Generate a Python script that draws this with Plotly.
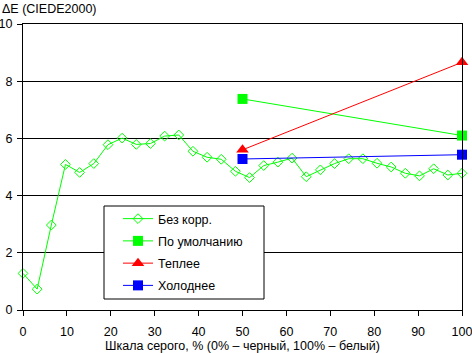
import plotly.graph_objects as go

# Data
x_base = [i * 100 / 31 for i in range(32)]
y_base = [1.28, 0.73, 2.97, 5.09, 4.81, 5.12, 5.78, 6.01, 5.79, 5.82, 6.08, 6.12,
          5.55, 5.34, 5.27, 4.85, 4.63, 5.05, 5.17, 5.31, 4.66, 4.9, 5.12, 5.29,
          5.29, 5.13, 5.0, 4.78, 4.69, 4.94, 4.72, 4.78]
x_pair = [50, 100]
y_default = [7.38, 6.1]
y_warm = [5.6, 8.66]
y_cold = [5.28, 5.43]

series_names = ["Без корр.", "По умолчанию", "Теплее", "Холоднее"]
x_ticks = [0, 10, 20, 30, 40, 50, 60, 70, 80, 90, 100]
y_ticks = [0, 2, 4, 6, 8, 10]

FONT = "Liberation Sans, Arial, sans-serif"
W, H = 472, 353
ML, MR, MT, MB = 23, 10, 24, 43
PW, PH = W - ML - MR, H - MT - MB


def px_x(p):
    return (p - ML) / PW


def px_y(p):
    return (H - MB - p) / PH


fig = go.Figure()
fig.add_trace(go.Scatter(x=x_base, y=y_base, mode="lines+markers", name=series_names[0],
                         legendgroup="a", cliponaxis=False,
                         line=dict(color="#00FF00", width=1),
                         marker=dict(symbol="diamond-open", size=7.5, color="#00FF00",
                                     line=dict(width=1, color="#00FF00"))))
fig.add_trace(go.Scatter(x=x_pair, y=y_default, mode="lines+markers", name=series_names[1],
                         legendgroup="b", cliponaxis=False,
                         line=dict(color="#00FF00", width=1),
                         marker=dict(symbol="square", size=10, color="#00FF00")))
fig.add_trace(go.Scatter(x=x_pair, y=y_warm, mode="lines+markers", name=series_names[2],
                         legendgroup="c", cliponaxis=False,
                         line=dict(color="#FF0000", width=1),
                         marker=dict(symbol="triangle-up", size=11, color="#FF0000")))
fig.add_trace(go.Scatter(x=x_pair, y=y_cold, mode="lines+markers", name=series_names[3],
                         legendgroup="d", cliponaxis=False,
                         line=dict(color="#0000FF", width=1),
                         marker=dict(symbol="square", size=10, color="#0000FF")))

fig.update_layout(
    template="none",
    width=W, height=H,
    margin=dict(l=ML, r=MR, t=MT, b=MB, autoexpand=False),
    paper_bgcolor="white", plot_bgcolor="white",
    font=dict(family=FONT, size=12, color="black"),
    showlegend=True,
    legend=dict(x=px_x(118), y=px_y(204), xanchor="left", yanchor="top",
                borderwidth=0, bgcolor="rgba(0,0,0,0)",
                tracegroupgap=3, font=dict(size=12.5, family=FONT),
                itemwidth=30),
    xaxis=dict(range=[0, 100], tickvals=x_ticks, showgrid=False, zeroline=False,
               automargin=False, ticklabeloverflow="allow", ticklabelstandoff=5,
               showline=True, linecolor="black", linewidth=1, mirror=True,
               ticks="outside", ticklen=5, tickcolor="black",
               tickfont=dict(size=12.5),
               title=dict(text="Шкала серого, % (0% – черный, 100% – белый)",
                          font=dict(size=12.5), standoff=6)),
    yaxis=dict(range=[0, 10], tickvals=y_ticks, showgrid=True, gridcolor="black",
               gridwidth=1, zeroline=False, automargin=False,
               ticklabeloverflow="allow", ticklabelstandoff=2,
               showline=True, linecolor="black", linewidth=1, mirror=True,
               ticks="outside", ticklen=5, tickcolor="black",
               tickfont=dict(size=12.5)),
    shapes=[dict(type="rect", xref="paper", yref="paper",
                 x0=px_x(104), x1=px_x(264), y0=px_y(299), y1=px_y(206),
                 line=dict(color="black", width=1), fillcolor="white", layer="above")],
    annotations=[dict(text="ΔE (CIEDE2000)", xref="paper", yref="paper",
                      x=px_x(0), y=px_y(0), xanchor="left", yanchor="top",
                      showarrow=False, font=dict(size=12.5))],
)

fig.write_html("out.html")
